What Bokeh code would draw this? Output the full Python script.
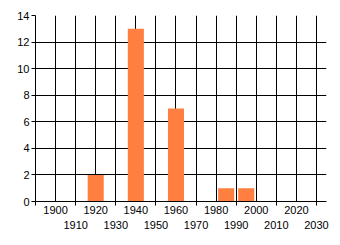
from bokeh.plotting import figure
from bokeh.models import Range1d, FixedTicker, LinearAxis, Grid
from bokeh.embed import file_html
from bokeh.resources import INLINE

years = [1920, 1940, 1960, 1985, 1995]
counts = [2, 13, 7, 1, 1]
row1_ticks = [1900, 1920, 1940, 1960, 1980, 2000, 2020]
row2_ticks = [1910, 1930, 1950, 1970, 1990, 2010, 2030]
odd_ticks = [1890] + row2_ticks
grid_ticks = sorted(row1_ticks + row2_ticks)
y_ticks = [0, 2, 4, 6, 8, 10, 12, 14]

FONT = "Liberation Sans"
FS = "11px"

p = figure(width=340, height=245, output_backend="svg", toolbar_location=None,
           x_range=Range1d(1890, 2035), y_range=Range1d(0, 14),
           x_axis_type=None, min_border_left=35, min_border_right=14,
           min_border_top=15, min_border_bottom=44)
p.outline_line_color = None
p.background_fill_color = "white"
p.border_fill_color = "white"

p.vbar(x=years, top=counts, width=8, fill_color="#ff7f40", line_color=None)

ax1 = LinearAxis(ticker=FixedTicker(ticks=row1_ticks, minor_ticks=odd_ticks))
ax1.major_tick_out = 0
ax1.major_tick_in = 0
ax1.minor_tick_out = 4
ax1.minor_tick_in = 0
ax1.minor_tick_line_color = "black"
ax1.axis_line_color = "black"
ax1.major_label_standoff = 0
ax1.major_label_text_font = FONT
ax1.major_label_text_font_size = FS
ax1.major_label_text_color = "black"
p.add_layout(ax1, "below")

ax2 = LinearAxis(ticker=FixedTicker(ticks=row2_ticks))
ax2.major_tick_line_color = None
ax2.minor_tick_line_color = None
ax2.axis_line_color = None
ax2.major_tick_out = 0
ax2.major_tick_in = 0
ax2.major_label_standoff = 4
ax2.major_label_text_font = FONT
ax2.major_label_text_font_size = FS
ax2.major_label_text_color = "black"
p.add_layout(ax2, "below")

p.yaxis.ticker = FixedTicker(ticks=y_ticks)
p.yaxis.major_tick_out = 4
p.yaxis.major_tick_in = 0
p.yaxis.minor_tick_line_color = None
p.yaxis.axis_line_color = "black"
p.yaxis.major_tick_line_color = "black"
p.yaxis.major_label_standoff = 2
p.yaxis.major_label_text_font = FONT
p.yaxis.major_label_text_font_size = FS
p.yaxis.major_label_text_color = "black"

xgrid = Grid(dimension=0, ticker=FixedTicker(ticks=grid_ticks),
             grid_line_color="black", grid_line_width=1)
p.add_layout(xgrid)
p.ygrid.grid_line_color = "black"
p.ygrid.grid_line_width = 1

open("out.html", "w").write(file_html(p, INLINE))
